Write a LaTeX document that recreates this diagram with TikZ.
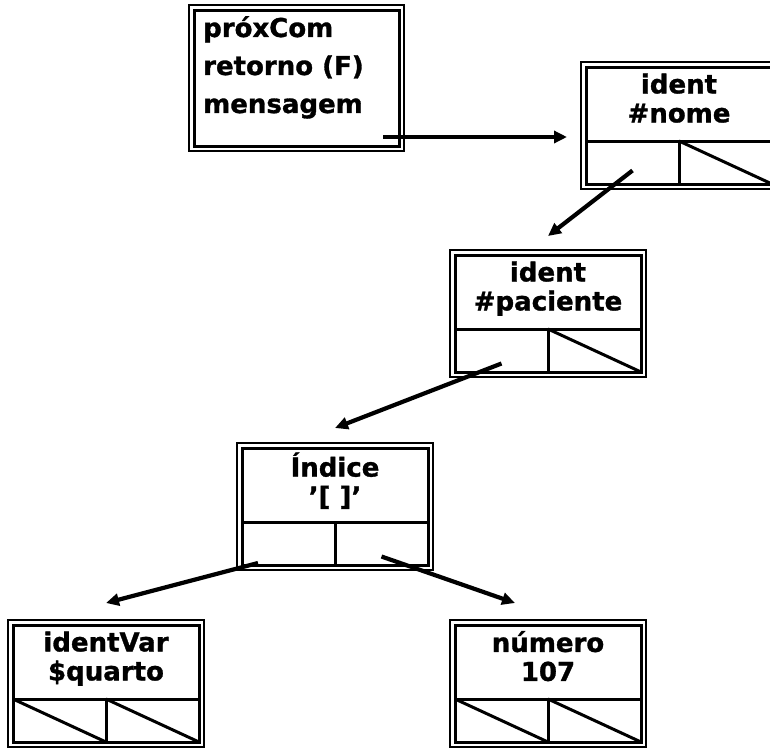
\documentclass[tikz,border=0pt]{standalone}
\usepackage{fontspec}
\setmainfont{DejaVu Sans}[BoldFeatures={FakeBold=1.2}]
\usetikzlibrary{arrows.meta, fit}

\begin{document}
\begin{tikzpicture}[
  x=1pt, y=-1pt,
  recbox/.style   = {draw, line width=3pt, minimum width=186pt, minimum height=74pt, inner sep=0pt, outer sep=0pt, anchor=north west, align=center, text depth=12pt, font=\fontsize{26}{29}\selectfont\bfseries},
  cellbox/.style  = {draw, line width=3pt, minimum width=93pt, minimum height=43pt, inner sep=0pt, outer sep=0pt, anchor=north west},
  procbox/.style  = {draw, line width=3pt, minimum width=205pt, minimum height=136pt, inner sep=0pt, outer sep=0pt, anchor=north west},
  proctext/.style = {inner sep=0pt, anchor=north west, align=left, font=\fontsize{26}{38}\selectfont\bfseries},
  framebox/.style = {draw, line width=1.8pt, inner sep=5pt},
  arr/.style      = {-{Triangle[length=13pt,width=12pt]}, line width=4.2pt},
  slash/.style    = {line width=3pt},
]
\clip (0,0) rectangle (770,750);
% command block
\node[procbox] (proc) at (194,10) {};
\node[framebox, fit=(proc)] (proc-f) {};
\node[proctext] (proc-t) at (203,16) {próxCom\\retorno (F)\\mensagem};
% records
\node[recbox] (nome) at (586,67) {ident\\\#nome};
\node[recbox] (pac) at (455,255) {ident\\\#paciente};
\node[recbox] (idx) at (242,448) {Índice\\'[ ]'};
\node[recbox] (var) at (13,625) {identVar\\\$quarto};
\node[recbox] (num) at (455,625) {número\\107};
\foreach \r in {nome, pac, idx, var, num} {
  \node[cellbox] (\r-l) at (\r.south west) {};
  \node[cellbox] (\r-r) at (\r-l.north east) {};
  \node[framebox, fit=(\r)(\r-l)(\r-r)] (\r-f) {};
}
\foreach \c in {nome-r, pac-r, var-l, var-r, num-l, num-r}
  \draw[slash] (\c.north west) -- (\c.south east);
% pointers
\draw[arr] ([shift={(-16,-9)}]proc.south east) -- ([shift={(-19,-4)}]nome.south west);
\draw[arr] ([yshift=-8pt]nome-l.center) -- ([yshift=19pt]pac.north);
\draw[arr] ([yshift=-13pt]pac-l.center) -- ([yshift=20pt]idx.north);
\draw[arr] ([shift={(16,-2)}]idx-l.south west) -- ([yshift=22pt]var.north);
\draw[arr] ([yshift=-13pt]idx-r.center) -- ([shift={(-33,-22)}]num.north);
\end{tikzpicture}
\end{document}
